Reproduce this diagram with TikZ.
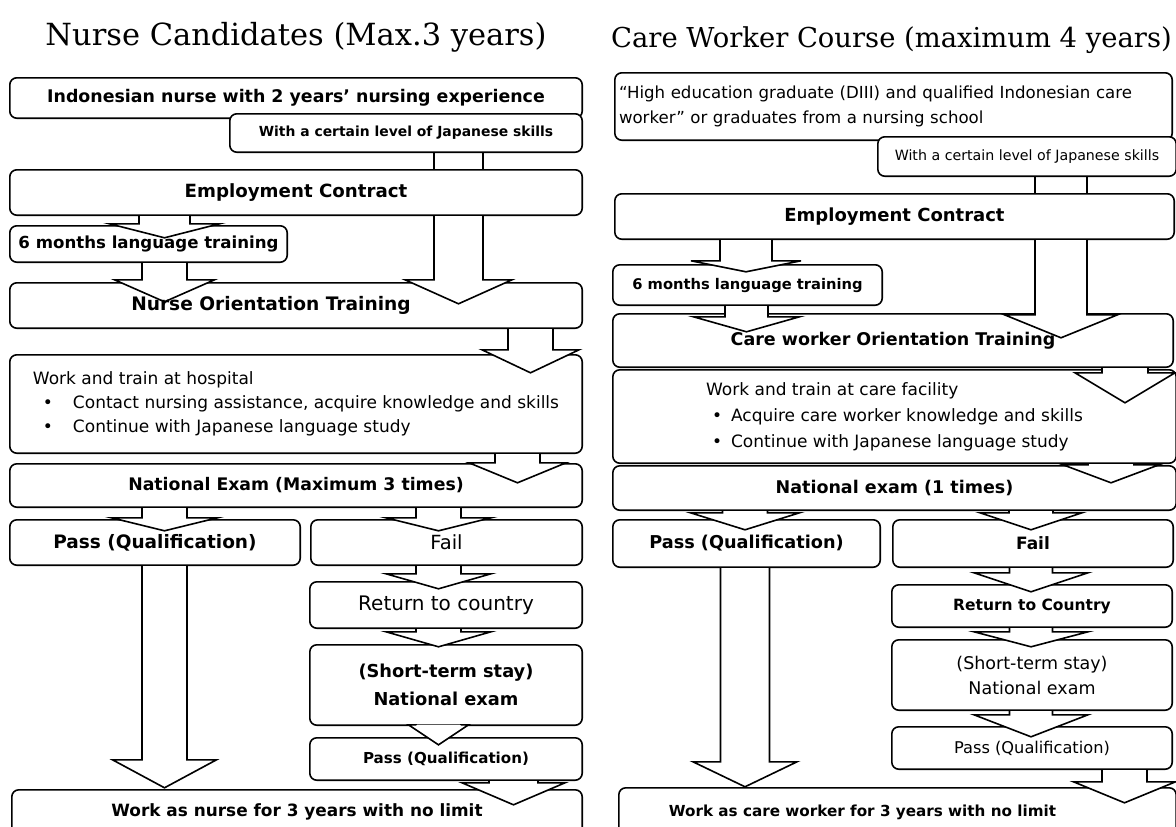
\documentclass[tikz,border=0pt]{standalone}
\usepackage{fontspec}
\setsansfont{DejaVu Sans}
\newfontfamily\titlefont{DejaVu Serif}
\usetikzlibrary{calc}
\pgfdeclarelayer{frames}
\pgfdeclarelayer{arrows}
\pgfsetlayers{frames,arrows,main}
\newcommand\fs[1]{\fontsize{#1}{#1}\selectfont}
\newcommand\mkbox[6][]{\node[boxn,minimum width={(#4-#2)*1pt},minimum height={(#5-#3)*1pt},#1] (#6) at ({(#2+#4)/2},{(#3+#5)/2})}
% block arrow: src, tgt, x centre, shaft half width, head half width, head top below tgt top, tip below tgt top, start below src bottom
\newcommand\barrow[8]{%
 \draw[blk] let \p1=(#1.south), \p2=(#2.north) in
  ({(#3-#4)*1pt},{\y1-(#8)*1pt}) -- ({(#3-#4)*1pt},{\y2-(#6)*1pt}) -- ({(#3-#5)*1pt},{\y2-(#6)*1pt}) -- ({(#3)*1pt},{\y2-(#7)*1pt}) -- ({(#3+#5)*1pt},{\y2-(#6)*1pt}) -- ({(#3+#4)*1pt},{\y2-(#6)*1pt}) -- ({(#3+#4)*1pt},{\y1-(#8)*1pt});}
\begin{document}
\begin{tikzpicture}[x=1pt,y=-1pt,
  frame/.style={draw=black,line width=1.6pt,fill=white,rounded corners=7pt},
  blk/.style={draw=black,line width=1.6pt,fill=white,line join=miter,miter limit=10},
  conn/.style={draw=black,line width=1.6pt},
  boxn/.style={inner sep=0pt,font=\sffamily,align=center},
  bf/.style={font=\sffamily\bfseries\fs{#1}},
  rg/.style={font=\sffamily\fs{#1}},
  ttl/.style={inner sep=0pt,font=\titlefont\fs{#1}}]
\useasboundingbox (0,0) rectangle (1176,827);
\begin{pgfonlayer}{frames}
\fill[white] (0,0) rectangle (1176,827);
\end{pgfonlayer}

% ---------- titles
\node[ttl=30.5] (t1) at (296,37) {Nurse Candidates (Max.3 years)};
\node[ttl=27.4] (t2) at (891.5,40) {Care Worker Course (maximum 4 years)};

% ---------- left column
\mkbox[bf=17.4]{10}{78}{582}{118}{b1}{Indonesian nurse with 2 years’ nursing experience};
\mkbox[bf=13.9]{230}{114}{582}{152}{b2}{With a certain level of Japanese skills};
\mkbox[bf=18.2]{10}{170}{582}{215}{ec}{Employment Contract};
\mkbox[bf=16.6]{10}{226}{287}{262}{six}{6 months language training};
\mkbox[bf=18.6]{10}{283}{582}{328}{not}{\kern-50pt Nurse Orientation Training};
\mkbox[font=\sffamily\fontsize{17}{24}\selectfont,align=left]{10}{355}{582}{453}{work}{Work and train at hospital\\
\hspace*{10pt}\makebox[30pt][l]{\textbullet}Contact nursing assistance, acquire knowledge and skills\\
\hspace*{10pt}\makebox[30pt][l]{\textbullet}Continue with Japanese language study};
\mkbox[bf=17.3]{10}{464}{582}{507}{exam}{National Exam (Maximum 3 times)};
\mkbox[bf=18.5]{10}{520}{300}{565}{pass}{Pass (Qualification)};
\mkbox[rg=19.5]{311}{520}{582}{565}{fail}{Fail};
\mkbox[rg=20]{310}{582}{582}{628}{ret}{Return to country};
\mkbox[font=\sffamily\bfseries\fontsize{17.8}{28}\selectfont]{310}{645}{582}{725}{short}{(Short-term stay)\\National exam};
\mkbox[bf=15.1]{310}{738}{582}{780}{pass2}{Pass (Qualification)};
\mkbox[bf=16.9]{12}{790}{582}{834}{final}{Work as nurse for 3 years with no limit};

% ---------- right column
\mkbox[font=\sffamily\fontsize{16.6}{25}\selectfont,align=left,text width=549pt]{615}{73}{1172}{140}{r1}{“High education graduate (DIII) and qualified Indonesian care\\worker” or graduates from a nursing school};
\mkbox[rg=14.2]{878}{137}{1176}{176}{r2}{With a certain level of Japanese skills};
\mkbox[bf=18]{615}{194}{1174}{239}{rec}{Employment Contract};
\mkbox[bf=14.7]{613}{265}{882}{305}{rsix}{6 months language training};
\mkbox[bf=17.5]{613}{314}{1173}{367}{rnot}{Care worker Orientation Training};
\mkbox[font=\sffamily\fontsize{17}{26}\selectfont,align=left]{613}{370}{1176}{463}{rwork}{Work and train at care facility\\
\hspace*{6pt}\makebox[19pt][l]{\textbullet}Acquire care worker knowledge and skills\\
\hspace*{6pt}\makebox[19pt][l]{\textbullet}Continue with Japanese language study};
\mkbox[bf=17.5]{613}{466}{1176}{510}{rexam}{National exam (1 times)};
\mkbox[bf=17.7]{613}{520}{880}{567}{rpass}{Pass (Qualification)};
\mkbox[bf=17]{893}{520}{1173}{567}{rfail}{Fail};
\mkbox[bf=15.5]{892}{585}{1172}{627}{rret}{Return to Country};
\mkbox[font=\sffamily\fontsize{17.5}{25}\selectfont]{892}{640}{1172}{710}{rshort}{(Short-term stay)\\National exam};
\mkbox[rg=16.2]{892}{727}{1172}{769}{rpass2}{Pass (Qualification)};
\mkbox[bf=15.2]{619}{788}{1176}{836}{rfinal}{\kern-70pt Work as care worker for 3 years with no limit};

% ---------- frames
\begin{pgfonlayer}{frames}
\foreach \n in {b1,b2,ec,six,not,work,exam,pass,fail,ret,short,pass2,final,r1,r2,rec,rsix,rnot,rwork,rexam,rpass,rfail,rret,rshort,rpass2,rfinal}
  \draw[frame] (\n.north west) rectangle (\n.south east);
\end{pgfonlayer}

% ---------- arrows
\begin{pgfonlayer}{arrows}
\draw[conn] (434,0 |- b2.south) -- (434,0 |- ec.north);
\draw[conn] (483,0 |- b2.south) -- (483,0 |- ec.north);
\barrow{ec}{six}{164.5}{25.5}{55}{-2}{12}{1}
\barrow{six}{not}{164.5}{22.5}{50}{-3}{19}{1}
\barrow{ec}{not}{458.5}{24.5}{53.5}{-3}{21}{1}
\barrow{not}{work}{530.5}{22.5}{48.5}{-5}{18}{1}
\barrow{work}{exam}{517.5}{22.5}{48.5}{-1}{19}{1}
\barrow{exam}{pass}{164.5}{22.5}{53}{-2}{11}{1}
\barrow{exam}{fail}{438.5}{22.5}{52.5}{-2}{11}{1}
\barrow{pass}{final}{164.5}{22.5}{52}{-30}{-2}{1}
\barrow{fail}{ret}{438.5}{22.5}{52.5}{-8}{7}{1}
\barrow{ret}{short}{438.5}{22.5}{52.5}{-13}{2}{1}
\barrow{short}{pass2}{438.5}{22.5}{30}{-13}{7}{0}
\barrow{pass2}{final}{513.5}{24.5}{51.5}{-7}{15}{1}

\draw[conn] (1035,0 |- r2.south) -- (1035,0 |- rec.north);
\draw[conn] (1087,0 |- r2.south) -- (1087,0 |- rec.north);
\barrow{rec}{rsix}{746}{26}{55}{-4}{7}{1}
\barrow{rsix}{rnot}{746.5}{21.5}{53}{3}{18}{1}
\barrow{rec}{rnot}{1061}{26}{56.5}{1}{24}{1}
\barrow{rnot}{rwork}{1125}{23}{50}{3}{33}{1}
\barrow{rwork}{rexam}{1111}{23}{48}{-1}{17}{1}
\barrow{rexam}{rpass}{745}{22.5}{54.5}{-7}{10}{1}
\barrow{rexam}{rfail}{1031}{22}{51}{-7}{10}{1}
\barrow{rpass}{rfinal}{745}{24.5}{52}{-26}{-1}{1}
\barrow{rfail}{rret}{1031}{21.5}{57}{-12}{7}{1}
\barrow{rret}{rshort}{1031}{21.5}{57}{-8}{7}{1}
\barrow{rshort}{rpass2}{1031}{21.5}{57}{-12}{10}{1}
\barrow{rpass2}{rfinal}{1124.5}{22.5}{51}{-6}{15}{1}
\end{pgfonlayer}
\end{tikzpicture}
\end{document}
